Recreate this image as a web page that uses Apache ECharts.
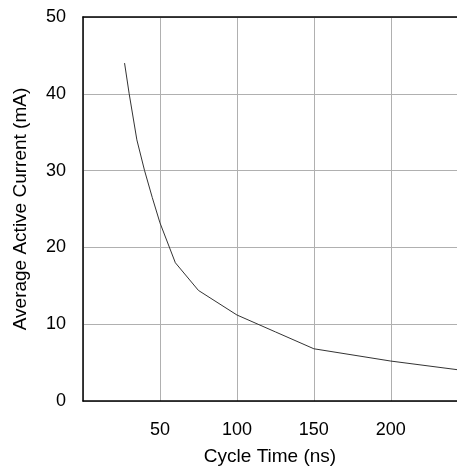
<!DOCTYPE html>
<html>
<head>
<meta charset="utf-8">
<script src="https://cdn.jsdelivr.net/npm/echarts@6/dist/echarts.min.js"></script>
<style>html,body{margin:0;padding:0;background:#fff}#c{width:457px;height:466px}</style>
</head>
<body>
<div id="c"></div>
<script>
var cycleTime = [27, 30, 35, 40, 45, 50, 60, 75, 100, 125, 150, 200, 250];
var activeCurrent = [44, 40, 34, 30, 26.5, 23.2, 18, 14.4, 11.2, 9, 6.8, 5.2, 3.9];
var xTickLabels = [50, 100, 150, 200];
var yTickLabels = [0, 10, 20, 30, 40, 50];

var points = cycleTime.map(function (x, i) { return [x, activeCurrent[i]]; });
var font = 'Liberation Sans, Arial, sans-serif';
var chart = echarts.init(document.getElementById('c'));
chart.setOption({
  animation: false,
  grid: { left: 83, right: 0, top: 17, bottom: 65, outerBoundsMode: 'none', containLabel: false },
  xAxis: [{
    type: 'value', min: 0, max: 243, interval: 50,
    name: 'Cycle Time (ns)', nameLocation: 'middle', nameGap: 46,
    nameTextStyle: { color: '#000', fontSize: 19, fontFamily: font },
    axisLine: { show: true, lineStyle: { color: '#000', width: 1.5 } },
    axisTick: { show: false },
    axisLabel: {
      color: '#000', fontSize: 18, fontFamily: font, margin: 20,
      formatter: function (v) { return xTickLabels.indexOf(v) >= 0 ? String(v) : ''; }
    },
    splitLine: { show: true, lineStyle: { color: '#b0b0b0', width: 1 } }
  }, {
    type: 'value', position: 'top', min: 0, max: 243,
    axisLine: { show: true, lineStyle: { color: '#000', width: 1.5 } },
    axisTick: { show: false }, axisLabel: { show: false }, splitLine: { show: false }
  }],
  yAxis: {
    type: 'value', min: 0, max: 50, interval: 10,
    name: 'Average Active Current (mA)', nameLocation: 'middle', nameGap: 53,
    nameTextStyle: { color: '#000', fontSize: 19, fontFamily: font },
    axisLine: { show: true, lineStyle: { color: '#000', width: 1.5 } },
    axisTick: { show: false },
    axisLabel: {
      color: '#000', fontSize: 18, fontFamily: font, margin: 17,
      formatter: function (v) { return yTickLabels.indexOf(v) >= 0 ? String(v) : ''; }
    },
    splitLine: { show: true, lineStyle: { color: '#b0b0b0', width: 1 } }
  },
  series: [{
    type: 'line', xAxisIndex: 0, data: points, showSymbol: false, clip: true,
    lineStyle: { color: '#333', width: 1 }
  }]
});
</script>
</body>
</html>
